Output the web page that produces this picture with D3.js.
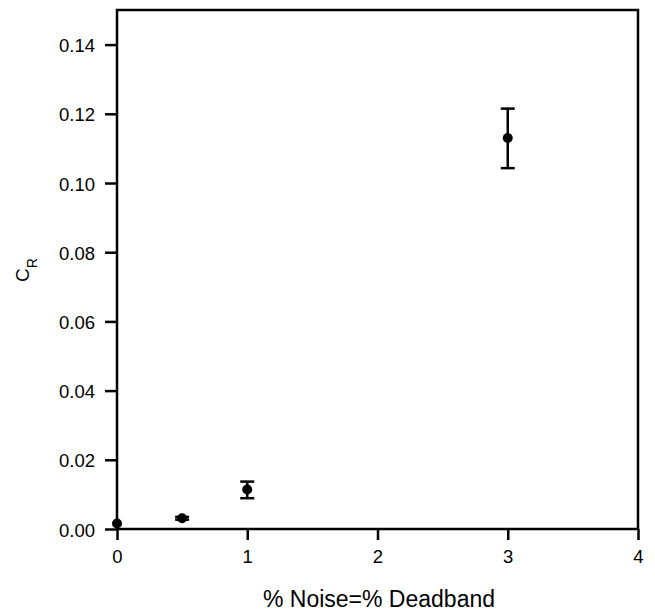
<!DOCTYPE html>
<html><head><meta charset="utf-8">
<script src="https://cdn.jsdelivr.net/npm/d3@7"></script>
<style>body{margin:0;background:#fff}</style>
</head><body>
<svg id="c" width="655" height="611"></svg>
<script>
const xValues = [0, 0.5, 1, 3];
const yValues = [0.0016, 0.0031, 0.0114, 0.113];
const yLow = [0.0016, 0.0027, 0.0089, 0.1043];
const yHigh = [0.0016, 0.0035, 0.0137, 0.1215];
const xTicks = [0, 1, 2, 3, 4];
const yTicks = [0, 0.02, 0.04, 0.06, 0.08, 0.10, 0.12, 0.14];

const svg = d3.select("#c");
const L = 117, R = 638, T = 10, B = 529;
const x = d3.scaleLinear().domain([0, 4]).range([L, R]);
const y = d3.scaleLinear().domain([0, 0.15]).range([B, T]);
const font = "Liberation Sans, Arial, sans-serif";

const xAxis = svg.append("g").attr("transform", `translate(0,${B})`)
  .call(d3.axisBottom(x).tickValues(xTicks).tickFormat(d3.format("d")).tickSize(11).tickPadding(10));
const yAxis = svg.append("g").attr("transform", `translate(${L},0)`)
  .call(d3.axisLeft(y).tickValues(yTicks).tickFormat(d3.format(".2f")).tickSize(12).tickPadding(10));
[xAxis, yAxis].forEach(a => {
  a.attr("font-size", null);
  a.select(".domain").remove();
  a.selectAll(".tick line").attr("stroke", "#000").attr("stroke-width", 2.5);
  a.selectAll(".tick text").attr("fill", "#000").style("font-family", font).style("font-size", "18.5px");
});
xAxis.selectAll(".tick text").attr("dy", "0.72em");
yAxis.selectAll(".tick text").attr("dy", "0.38em");

svg.append("rect").attr("x", L).attr("y", T).attr("width", R - L).attr("height", B - T)
  .attr("fill", "none").attr("stroke", "#000").attr("stroke-width", 2.5);

const g = svg.append("g");
xValues.forEach((xv, i) => {
  if (yHigh[i] > yLow[i]) {
    const cx = x(xv);
    g.append("line").attr("x1", cx).attr("x2", cx).attr("y1", y(yLow[i])).attr("y2", y(yHigh[i]))
      .attr("stroke", "#000").attr("stroke-width", 2.5);
    [yLow[i], yHigh[i]].forEach(v => {
      g.append("line").attr("x1", cx - 7).attr("x2", cx + 7).attr("y1", y(v)).attr("y2", y(v))
        .attr("stroke", "#000").attr("stroke-width", 2.5);
    });
  }
  g.append("circle").attr("cx", x(xv)).attr("cy", y(yValues[i])).attr("r", 5).attr("fill", "#000");
});

svg.append("text").attr("x", 379).attr("y", 607).attr("text-anchor", "middle")
  .style("font-family", font).style("font-size", "23px").text("% Noise=% Deadband");

const yl = svg.append("text").attr("transform", "translate(29,270) rotate(-90)")
  .attr("text-anchor", "middle").style("font-family", font).style("font-size", "19px");
yl.append("tspan").text("C");
yl.append("tspan").attr("dy", 8).style("font-size", "14px").text("R");
</script>
</body></html>
